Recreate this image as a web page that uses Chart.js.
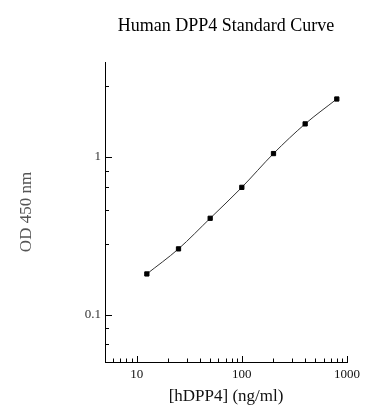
<!DOCTYPE html>
<html>
<head>
<meta charset="utf-8">
<script src="https://cdn.jsdelivr.net/npm/chart.js@4/dist/chart.umd.min.js"></script>
<style>
  html, body { margin: 0; padding: 0; background: #fff; }
  #wrap { width: 388px; height: 420px; }
</style>
</head>
<body>
<div id="wrap"><canvas id="c" width="388" height="420"></canvas></div>
<script>
const chartTitle = 'Human DPP4 Standard Curve';
const xTitle = '[hDPP4] (ng/ml)';
const yTitle = 'OD 450 nm';

const concentrations = [12.5, 25, 50, 100, 200, 400, 800];
const od450 = [0.181, 0.261, 0.408, 0.641, 1.05, 1.62, 2.33];

const xMajorTicks = [10, 100, 1000];
const xMinorTicks = [6, 7, 8, 9, 20, 30, 40, 50, 60, 70, 80, 90, 200, 300, 400, 500, 600, 700, 800, 900];
const yMajorTicks = [0.1, 1];
const yMinorTicks = [0.065, 0.082, 0.28, 0.46, 0.645, 0.815, 2.82];

const serif = '"Liberation Serif", "DejaVu Serif", serif';

const tickMarks = {
  id: 'tickMarks',
  afterDatasetsDraw(chart) {
    const ctx = chart.ctx;
    const xs = chart.scales.x, ys = chart.scales.y;
    const area = chart.chartArea;
    ctx.save();
    ctx.strokeStyle = '#000';
    ctx.lineWidth = 1;
    ctx.beginPath();
    const xTick = (v, len) => {
      const px = Math.round(xs.getPixelForValue(v)) + 0.5;
      ctx.moveTo(px, area.bottom);
      ctx.lineTo(px, area.bottom - len);
    };
    const yTick = (v, len) => {
      const py = Math.round(ys.getPixelForValue(v)) + 0.5;
      ctx.moveTo(area.left, py);
      ctx.lineTo(area.left + len, py);
    };
    xMajorTicks.forEach(v => xTick(v, 6));
    xMinorTicks.forEach(v => xTick(v, 3.5));
    yMajorTicks.forEach(v => yTick(v, 7));
    yMinorTicks.forEach(v => yTick(v, 4));
    ctx.stroke();
    // chart title centered over plot area
    ctx.fillStyle = '#000';
    ctx.font = '18px ' + serif;
    ctx.textAlign = 'center';
    ctx.textBaseline = 'alphabetic';
    ctx.fillText(chartTitle, (area.left + area.right) / 2, 31);
    ctx.restore();
  }
};

new Chart(document.getElementById('c'), {
  type: 'scatter',
  data: {
    datasets: [{
      data: concentrations.map((c, i) => ({ x: c, y: od450[i] })),
      showLine: true,
      borderColor: '#333',
      borderWidth: 1,
      cubicInterpolationMode: 'monotone',
      pointStyle: 'rect',
      pointRadius: 3,
      pointBorderWidth: 1,
      pointBackgroundColor: '#000',
      pointBorderColor: '#000'
    }]
  },
  options: {
    responsive: false,
    animation: false,
    devicePixelRatio: 1,
    layout: { padding: { left: 0, right: 41, top: 62, bottom: 0 } },
    plugins: {
      legend: { display: false },
      title: { display: false },
      tooltip: { enabled: false }
    },
    scales: {
      x: {
        type: 'logarithmic',
        min: 5,
        max: 1000,
        afterBuildTicks(scale) {
          scale.ticks = xMajorTicks.map(v => ({ value: v, major: true }));
        },
        afterFit(scale) {
          scale.height = 58;
          scale.paddingLeft = 0;
          scale.paddingRight = 0;
        },
        grid: { display: false, drawTicks: false },
        border: { display: true, color: '#000', width: 1 },
        ticks: {
          autoSkip: false,
          maxRotation: 0,
          padding: 5,
          color: '#111',
          font: { family: serif, size: 13 },
          callback: (v) => String(v)
        },
        title: {
          display: true,
          text: xTitle,
          color: '#111',
          font: { family: serif, size: 17 },
          padding: { top: 0, bottom: 13 }
        }
      },
      y: {
        type: 'logarithmic',
        min: 0.05,
        max: 4,
        afterBuildTicks(scale) {
          scale.ticks = yMajorTicks.map(v => ({ value: v, major: true }));
        },
        afterFit(scale) {
          scale.width = 105;
          scale.paddingTop = 0;
          scale.paddingBottom = 0;
        },
        grid: { display: false, drawTicks: false },
        border: { display: true, color: '#000', width: 1 },
        ticks: {
          autoSkip: false,
          padding: 4,
          color: '#333',
          font: { family: serif, size: 13 },
          callback: (v) => String(v)
        },
        title: {
          display: true,
          text: yTitle,
          color: '#555',
          font: { family: serif, size: 17 },
          padding: { top: 16, bottom: 0 }
        }
      }
    }
  },
  plugins: [tickMarks]
});
</script>
</body>
</html>
